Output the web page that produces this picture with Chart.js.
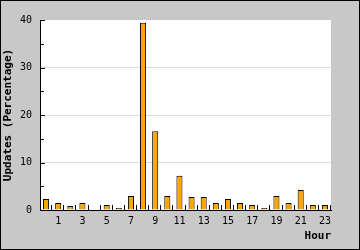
<!DOCTYPE html>
<html>
<head>
<meta charset="utf-8">
<script src="https://cdn.jsdelivr.net/npm/chart.js@4/dist/chart.umd.min.js"></script>
<style>
  html, body { margin: 0; padding: 0; background: #c8c8c8; }
  #wrap { width: 360px; height: 250px; }
</style>
</head>
<body>
<div id="wrap"><canvas id="chart" width="360" height="250"></canvas></div>
<script>
// ---- Data ----
const hours = ['0', '1', '2', '3', '4', '5', '6', '7', '8', '9', '10', '11',
  '12', '13', '14', '15', '16', '17', '18', '19', '20', '21', '22', '23'];
const updates = [2.3, 1.5, 0.85, 1.5, 0, 1.05, 0.4, 2.95, 39.4, 16.6, 2.95, 7.2,
  2.75, 2.75, 1.5, 2.3, 1.5, 1.05, 0.4, 2.95, 1.5, 4.2, 1.05, 1.05];
const yMin = 0;
const yMax = 40;
const yStep = 10;
const yMinorStep = 5;

const monoFont = '"DejaVu Sans Mono", monospace';

// ---- Grey frame, white plot area, outer border ----
const framePlugin = {
  id: 'frame',
  beforeDraw(chart) {
    const { ctx, width, height, chartArea: a } = chart;
    ctx.save();
    ctx.fillStyle = '#c8c8c8';
    ctx.fillRect(0, 0, width, height);
    ctx.fillStyle = '#ffffff';
    ctx.fillRect(a.left, a.top, a.right - a.left, a.bottom - a.top);
    ctx.restore();
  },
  afterDraw(chart) {
    const { ctx, width, height } = chart;
    ctx.save();
    ctx.strokeStyle = '#000';
    ctx.lineWidth = 1;
    ctx.strokeRect(0.5, 0.5, width - 1, height - 1);
    ctx.restore();
  }
};

// ---- Inner tick marks (y every 5, x between categories) ----
const innerTicks = {
  id: 'innerTicks',
  afterDatasetsDraw(chart) {
    const { ctx, scales: { x, y } } = chart;
    ctx.save();
    ctx.strokeStyle = '#000';
    ctx.lineWidth = 1;
    ctx.beginPath();
    for (let v = yMin; v <= yMax; v += yMinorStep) {
      const py = Math.round(y.getPixelForValue(v)) + 0.5;
      const len = v % yStep === 0 ? 5 : 4;
      ctx.moveTo(x.left, py);
      ctx.lineTo(x.left + len, py);
    }
    for (let i = 1; i <= hours.length; i++) {
      const px = Math.round(x.getPixelForValue(i - 0.5)) - 0.5;
      ctx.moveTo(px, y.bottom);
      ctx.lineTo(px, y.bottom - 5);
    }
    ctx.stroke();
    ctx.restore();
  }
};

new Chart(document.getElementById('chart'), {
  type: 'bar',
  data: {
    labels: hours,
    datasets: [{
      data: updates,
      backgroundColor: '#ffa500',
      borderColor: '#000',
      borderWidth: 1,
      barPercentage: 0.5,
      categoryPercentage: 1.0
    }]
  },
  options: {
    responsive: false,
    animation: false,
    layout: { padding: { top: 20, right: 29, left: 0, bottom: 0 } },
    plugins: {
      legend: { display: false },
      tooltip: { enabled: false }
    },
    scales: {
      x: {
        afterFit: (scale) => { scale.height = 40; },
        grid: { display: false, drawTicks: false },
        border: { color: '#000', width: 1 },
        ticks: {
          autoSkip: false,
          maxRotation: 0,
          padding: 5,
          color: '#000',
          font: { family: monoFont, size: 10 },
          callback: function(value, index) {
            return index % 2 ? this.getLabelForValue(value) : '';
          }
        },
        title: {
          display: true,
          text: 'Hour',
          align: 'end',
          color: '#000',
          font: { family: monoFont, size: 11, weight: 'bold' },
          padding: { top: 0, bottom: 7.5 }
        }
      },
      y: {
        min: yMin,
        max: yMax,
        afterFit: (scale) => { scale.width = 40; },
        grid: {
          drawTicks: false,
          color: (c) => (c.tick && c.tick.value === yMax) ? 'rgba(0,0,0,0)' : '#dcdcdc'
        },
        border: { color: '#000', width: 1 },
        ticks: {
          stepSize: yStep,
          padding: 8,
          color: '#000',
          font: { family: monoFont, size: 10 }
        },
        title: {
          display: true,
          text: 'Updates (Percentage)',
          color: '#000',
          font: { family: monoFont, size: 11, weight: 'bold' },
          padding: { top: 2, bottom: 0 }
        }
      }
    }
  },
  plugins: [framePlugin, innerTicks]
});
</script>
</body>
</html>
